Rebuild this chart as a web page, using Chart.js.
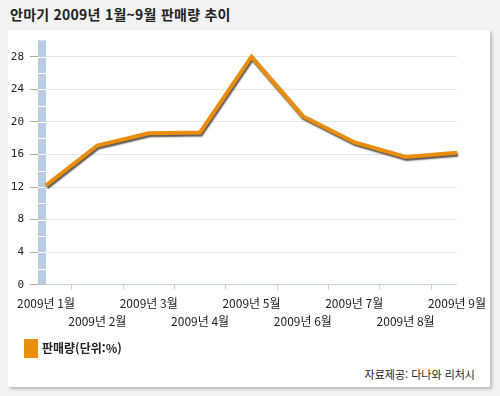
<!DOCTYPE html>
<html lang="ko">

<head>
    <meta charset="UTF-8">
    <title>안마기 판매량 추이</title>
    <script src="https://cdn.jsdelivr.net/npm/chart.js"></script>
    <style>
        body {
            margin: 0;
            width: 500px;
            height: 396px;
            background: #f3f3f3;
            font-family: "Noto Sans CJK KR", sans-serif;
            position: relative;
            overflow: hidden;
        }

        .title {
            position: absolute;
            left: 10px;
            top: 4px;
            font-size: 14px;
            font-weight: bold;
            color: #222;
            letter-spacing: 0.25px;
        }

        .panel {
            position: absolute;
            left: 8px;
            top: 30px;
            width: 482px;
            height: 357px;
            background: #fff;
            box-shadow: 2px 2px 3px rgba(0, 0, 0, 0.25);
        }

        canvas {
            position: absolute;
            left: 0;
            top: 0;
        }

        .source {
            position: absolute;
            right: 15px;
            bottom: 5px;
            font-size: 11px;
            color: #222;
        }
    </style>
</head>

<body>
    <div class="title">안마기 2009년 1월~9월 판매량 추이</div>
    <div class="panel">
        <canvas id="salesChart" width="482" height="336"></canvas>
        <div class="source">자료제공: 다나와 리처시</div>
    </div>

    <script>
        var months = ['2009년 1월', '2009년 2월', '2009년 3월', '2009년 4월', '2009년 5월',
            '2009년 6월', '2009년 7월', '2009년 8월', '2009년 9월'];
        var sales = [12.2, 17.1, 18.6, 18.7, 28.0, 20.7, 17.5, 15.7, 16.2];
        var seriesName = '판매량(단위:%)';
        var yTicks = [0, 4, 8, 12, 16, 20, 24, 28];

        // blue wall on the left side of the plot, notched every 2 units
        var wallPlugin = {
            id: 'wall',
            afterLayout: function (chart) {
                // nudge the legend right, away from the panel edge
                chart.legend.left += 12;
                chart.legend.right += 12;
            },
            beforeDatasetsDraw: function (chart) {
                var ctx = chart.ctx;
                var y = chart.scales.y;
                var left = chart.chartArea.left;
                ctx.save();
                ctx.fillStyle = '#b9cce0';
                ctx.fillRect(left - 8, chart.chartArea.top, 8, chart.chartArea.bottom - chart.chartArea.top);
                ctx.strokeStyle = '#ffffff';
                ctx.lineWidth = 1;
                for (var v = 2; v < y.max; v += 2) {
                    var py = Math.round(y.getPixelForValue(v)) + 0.5;
                    ctx.beginPath();
                    ctx.moveTo(left - 8, py);
                    ctx.lineTo(left, py);
                    ctx.stroke();
                }
                ctx.restore();
            }
        };

        var shadowPlugin = {
            id: 'lineShadow',
            beforeDatasetDraw: function (chart) {
                var ctx = chart.ctx;
                ctx.save();
                ctx.shadowColor = 'rgba(40, 30, 20, 0.75)';
                ctx.shadowOffsetX = 1;
                ctx.shadowOffsetY = 2;
                ctx.shadowBlur = 1.5;
            },
            afterDatasetDraw: function (chart) {
                chart.ctx.restore();
            }
        };

        var ctx = document.getElementById('salesChart').getContext('2d');
        var salesChart = new Chart(ctx, {
            type: 'line',
            data: {
                labels: months,
                datasets: [{
                    label: seriesName,
                    data: sales,
                    borderColor: '#e88d0c',
                    backgroundColor: '#e88d0c',
                    borderWidth: 4,
                    pointRadius: 0,
                    tension: 0,
                    borderJoinStyle: 'miter',
                }],
            },
            options: {
                responsive: false,
                animation: false,
                layout: {
                    padding: { top: 6, right: 33, left: 0, bottom: 0 }
                },
                plugins: {
                    tooltip: { enabled: false },
                    legend: {
                        position: 'bottom',
                        align: 'start',
                        labels: {
                            boxWidth: 10,
                            boxHeight: 15,
                            padding: 6,
                            color: '#222',
                            font: { family: '"Noto Sans CJK KR"', size: 12, weight: 'bold' },
                        }
                    }
                },
                scales: {
                    x: {
                        offset: false,
                        border: { color: '#c5d3e2' },
                        grid: {
                            offset: true,
                            drawOnChartArea: false,
                            tickLength: 5,
                            tickColor: '#c5d3e2',
                        },
                        ticks: {
                            autoSkip: false,
                            maxRotation: 0,
                            minRotation: 0,
                            padding: 4,
                            color: '#222',
                            font: { family: '"Noto Sans CJK KR"', size: 12, lineHeight: 1.55 },
                            callback: function (value, index) {
                                var label = months[index];
                                return index % 2 === 0 ? [label, ''] : ['', label];
                            }
                        }
                    },
                    y: {
                        min: 0,
                        max: 30,
                        border: { display: false },
                        grid: {
                            color: '#e6e6e6',
                            tickColor: '#aaaaaa',
                            tickLength: 16,
                        },
                        afterBuildTicks: function (scale) {
                            scale.ticks = yTicks.map(function (v) { return { value: v }; });
                        },
                        afterFit: function (scale) {
                            scale.width = 38;
                        },
                        ticks: {
                            padding: 6,
                            color: '#222',
                            font: { family: '"DejaVu Sans Mono"', size: 11, lineHeight: 0.8 },
                        }
                    }
                }
            },
            plugins: [wallPlugin, shadowPlugin]
        });
    </script>
</body>

</html>
